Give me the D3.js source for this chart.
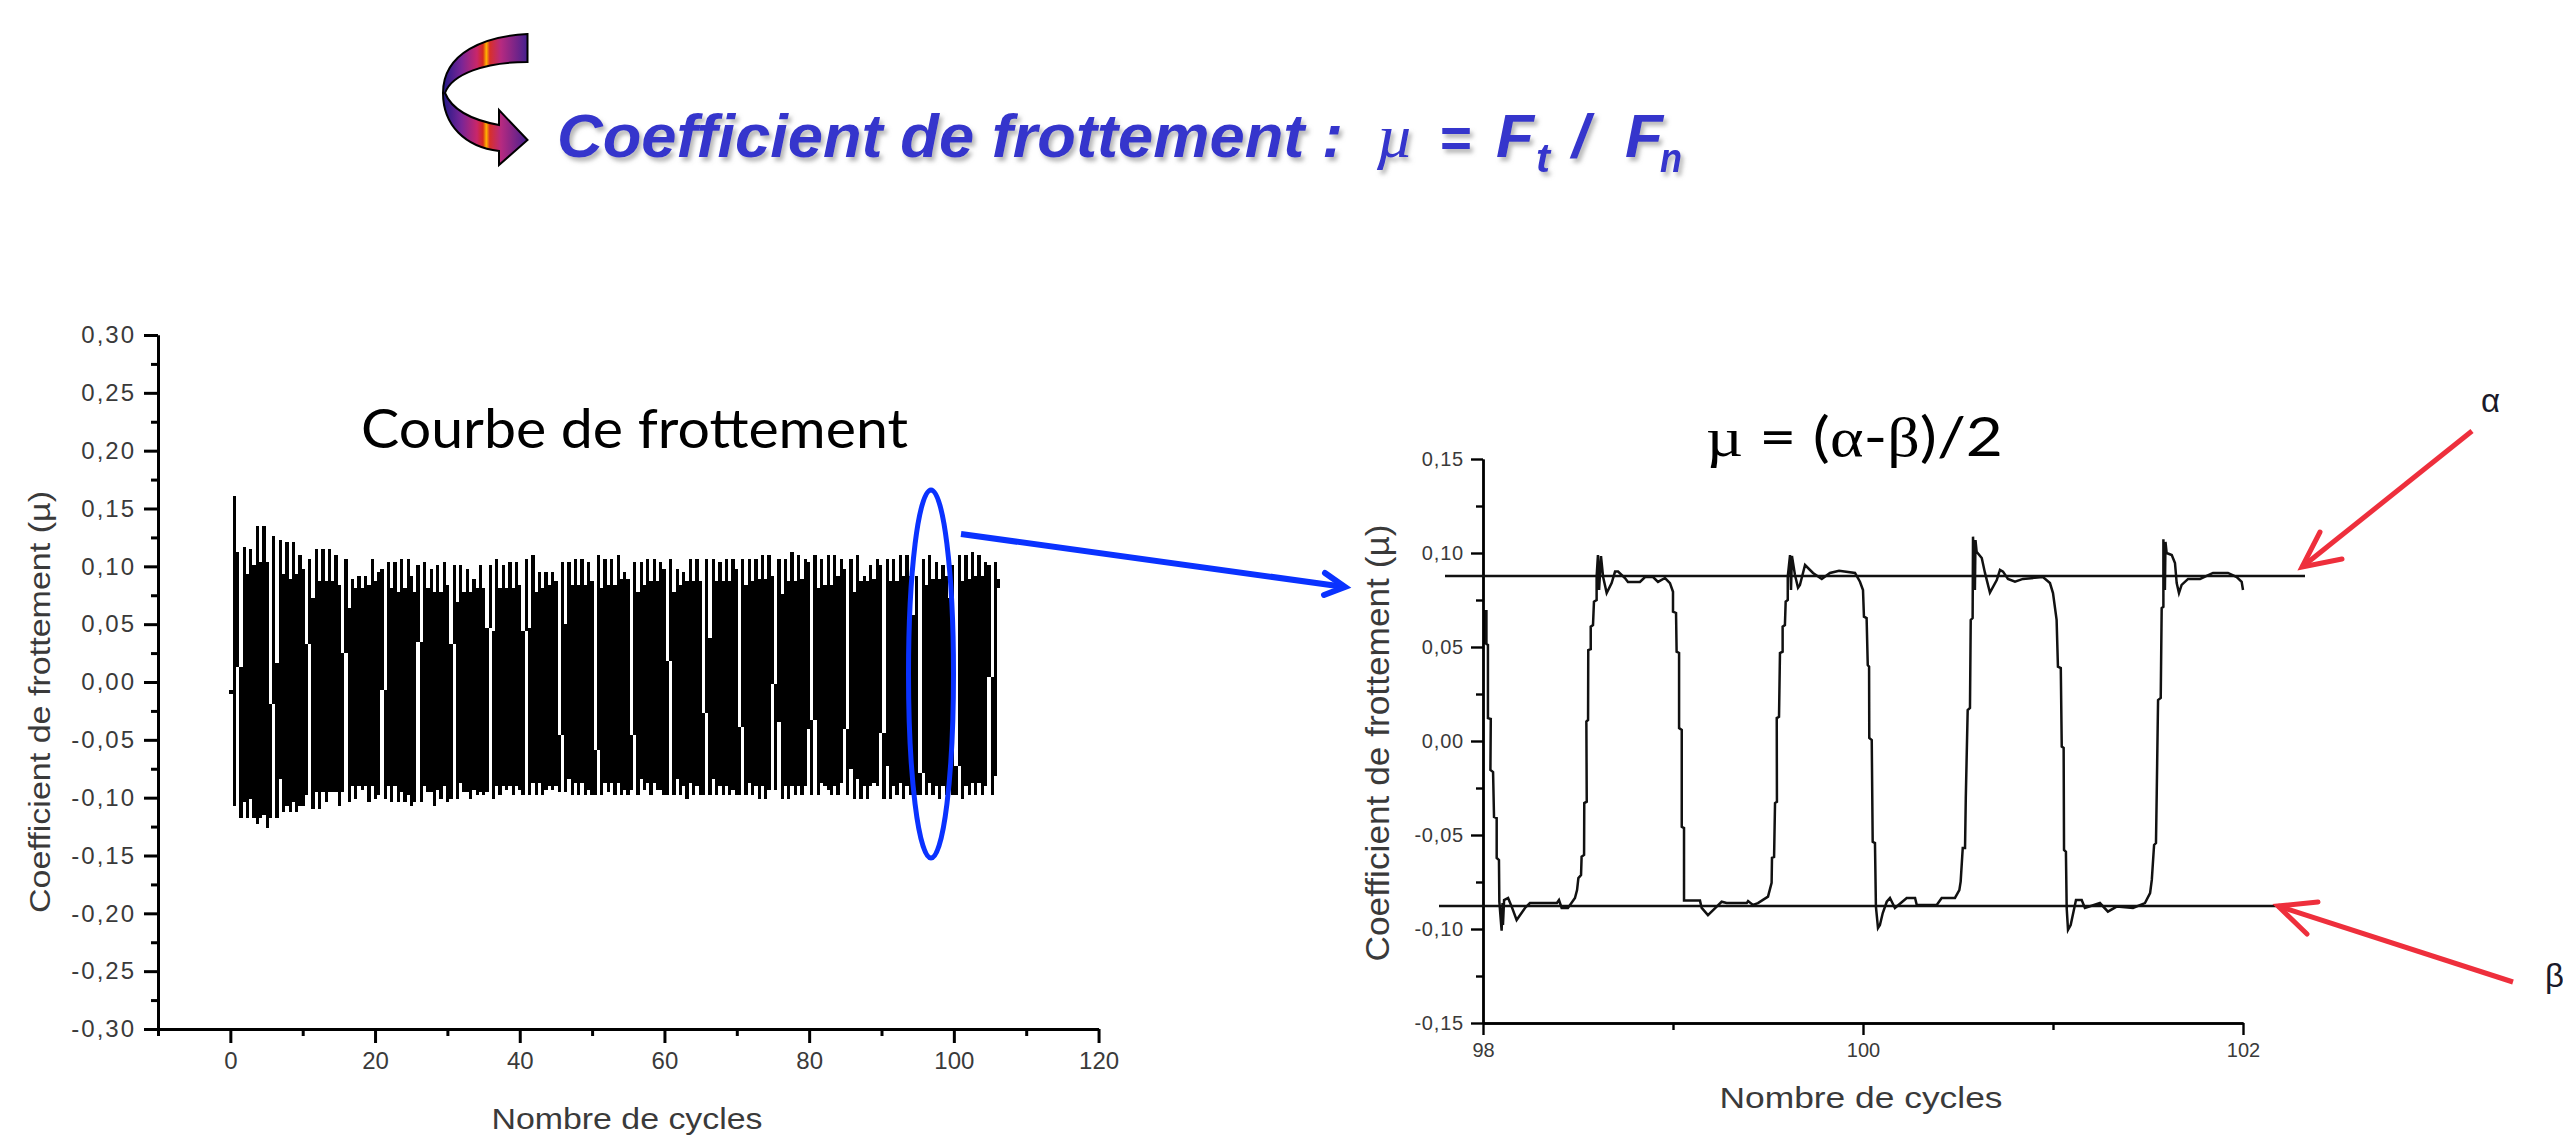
<!DOCTYPE html>
<html>
<head>
<meta charset="utf-8">
<script src="https://d3js.org/d3.v7.min.js"></script>
<style>
	html, body { margin: 0; padding: 0; background: #fff; overflow: hidden; }
	svg { display: block; }
	.axis text { font-family: "Liberation Sans", Arial, sans-serif; fill: #3a3a3a; }
	.axis path, .axis line { stroke: #000; }
	.axis-title { font-family: "Liberation Sans", Arial, sans-serif; fill: #3a3a3a; }
	.note { font-family: Lato, "Open Sans", sans-serif; fill: #000; }
	.head { font-family: "Liberation Sans", Arial, sans-serif; font-weight: bold; font-style: italic; fill: #3434cc; }
</style>
</head>
<body>
<script>
// courbe de frottement : bords haut et bas, lus colonne par colonne
var sampleStart = -0.12;
var sampleStep  = 0.4534;
var upperEdge = [-.007,
	.161,.112,.013,.117,.093,.115,.101,.135,.104,.135,.104,-.019,.126,.016,.123,.093,.121,.089,.121,.093,
	.110,.098,.033,.106,.073,.115,.087,.115,.087,.115,.087,.110,.084,.025,.106,.064,.089,.081,.092,.081,
	.092,.084,.106,.087,.095,.098,-.007,.104,.081,.104,.078,.106,.081,.106,.092,.078,.101,.035,.104,.081,
	.098,.078,.101,.078,.104,.084,.033,.101,.069,.101,.078,.098,.078,.089,.081,.101,.081,.047,.101,.044,
	.106,.081,.101,.081,.104,.081,.104,.084,.044,.106,.047,.110,.078,.095,.081,.095,.084,.095,.087,-.046,
	.104,.050,.104,.084,.106,.084,.106,.084,.104,.087,-.059,.110,.081,.106,.084,.106,.084,.110,.089,.095,
	.089,-.046,.104,.078,.104,.084,.106,.087,.106,.087,.104,.098,.018,.106,.078,.098,.084,.095,.087,.106,
	.087,.106,.087,-.027,.106,.038,.106,.087,.104,.087,.106,.087,.106,.098,-.039,.106,.084,.106,.087,.106,
	.089,.110,.089,.110,.092,-.002,.106,.076,.106,.087,.112,.087,.110,.089,.106,.104,-.033,.110,.081,.106,
	.084,.110,.084,.110,.092,.106,.098,-.041,.106,.078,.110,.087,.092,.087,.101,.089,.106,.101,-.044,.106,
	.087,.106,.087,.110,.092,.110,.092,.058,.092,-.079,.106,.084,.110,.089,.104,.089,.101,.092,.073,.101,
	-.073,.110,.087,.110,.089,.112,.092,.110,.092,.104,.101,.004,.104,.089,.089];
var lowerEdge = [-.010,
	-.107,.013,-.118,-.104,-.118,-.101,-.118,-.123,-.118,-.115,-.126,-.118,-.019,-.118,-.084,-.112,-.107,-.112,-.104,-.112,
	-.107,-.107,-.098,.033,-.110,-.095,-.110,-.095,-.104,-.095,-.095,-.095,-.107,-.095,.025,-.104,-.090,-.101,-.090,-.093,
	-.090,-.104,-.090,-.101,-.098,-.007,-.101,-.090,-.104,-.090,-.104,-.095,-.104,-.098,-.107,-.104,.035,-.104,-.090,-.095,
	-.095,-.107,-.093,-.101,-.090,-.104,-.101,.033,-.101,-.087,-.095,-.095,-.101,-.093,-.098,-.095,-.098,-.095,.047,-.101,
	-.090,-.098,-.090,-.093,-.090,-.098,-.090,-.093,-.098,.044,-.098,-.087,-.098,-.087,-.098,-.093,-.090,-.093,-.090,-.095,
	-.046,-.095,-.084,-.098,-.087,-.098,-.087,-.098,-.093,-.098,-.098,-.059,-.098,-.087,-.095,-.087,-.098,-.087,-.098,-.093,
	-.098,-.093,-.046,-.098,-.084,-.093,-.087,-.098,-.087,-.093,-.093,-.098,-.098,.018,-.098,-.084,-.098,-.090,-.101,-.087,
	-.098,-.090,-.098,-.098,-.027,-.098,-.084,-.098,-.090,-.098,-.090,-.098,-.093,-.098,-.098,-.039,-.098,-.087,-.098,-.090,
	-.101,-.090,-.101,-.093,-.002,-.093,-.035,-.101,-.090,-.101,-.090,-.098,-.090,-.098,-.090,-.041,-.098,-.033,-.098,-.087,
	-.090,-.093,-.098,-.090,-.098,-.087,-.041,-.098,-.075,-.101,-.084,-.101,-.090,-.101,-.090,-.087,-.090,-.044,-.101,-.073,
	-.101,-.090,-.098,-.087,-.101,-.090,-.098,-.090,-.098,-.098,-.079,-.098,-.087,-.098,-.090,-.101,-.090,-.098,-.090,-.098,
	-.098,-.073,-.101,-.090,-.098,-.087,-.098,-.087,-.098,-.090,.004,-.098,-.081,.081,.081];

// zoom 98-102 cycles
var detailCycle = [98.012,98.012,98.018,98.018,98.026,98.026,98.041,98.039,98.053,98.058,98.072,98.072,98.084,98.086,98.098,98.103,98.105,98.111,98.132,98.151,98.177,98.221,
	98.247,98.353,98.389,98.400,98.414,98.447,98.484,98.495,98.502,98.516,98.519,98.532,98.533,98.546,98.544,98.553,98.554,98.567,98.567,98.579,
	98.584,98.598,98.598,98.605,98.611,98.621,98.632,98.651,98.677,98.695,98.711,98.747,98.763,98.826,98.853,98.895,98.921,98.958,98.984,99.000,
	99.000,99.016,99.019,99.032,99.032,99.046,99.046,99.058,99.058,99.142,99.151,99.184,99.230,99.256,99.282,99.388,99.395,99.421,99.447,99.500,
	99.519,99.521,99.532,99.537,99.547,99.546,99.558,99.563,99.577,99.577,99.589,99.593,99.604,99.604,99.616,99.621,99.626,99.642,99.658,99.668,
	99.695,99.737,99.783,99.826,99.874,99.958,99.984,100.000,100.005,100.019,100.025,100.032,100.033,100.046,100.051,100.063,100.068,100.079,100.089,100.104,
	100.125,100.142,100.168,100.230,100.274,100.283,100.388,100.414,100.484,100.507,100.514,100.525,100.537,100.541,100.551,100.563,100.567,100.577,100.579,100.589,
	100.592,100.598,100.625,100.642,100.668,100.704,100.721,100.737,100.763,100.800,100.842,100.947,100.984,101.000,101.019,101.026,101.041,101.046,101.056,101.058,
	101.068,101.072,101.079,101.093,101.121,101.151,101.168,101.247,101.289,101.335,101.421,101.484,101.511,101.520,101.532,101.542,101.546,101.553,101.567,101.572,
	101.581,101.581,101.589,101.592,101.598,101.625,101.642,101.651,101.663,101.677,101.711,101.774,101.842,101.921,101.967,101.993,102.000];
var detailMu = [.0697,.0516,.0697,.0516,.0511,.0122,.0117,-.0154,-.0165,-.0404,-.0410,-.0622,-.0633,-.0855,-.1009,-.0862,-.0979,-.0846,-.0835,-.0881,-.0952,-.0888,
	-.0862,-.0862,-.0862,-.0846,-.0888,-.0888,-.0835,-.0793,-.0729,-.0713,-.0615,-.0606,-.0330,-.0323,.0103,.0112,.0484,.0489,.0608,.0617,
	.0741,.0750,.0874,.0989,.0803,.0984,.0874,.0787,.0840,.0901,.0901,.0867,.0846,.0846,.0872,.0872,.0846,.0867,.0840,.0794,
	.0688,.0681,.0475,.0468,.0069,.0059,-.0456,-.0463,-.0849,-.0849,-.0888,-.0926,-.0881,-.0855,-.0862,-.0862,-.0851,-.0872,-.0862,-.0828,
	-.0755,-.0622,-.0617,-.0330,-.0323,.0122,.0129,.0468,.0475,.0608,.0617,.0741,.0750,.0874,.0989,.0803,.0984,.0883,.0815,.0830,
	.0936,.0894,.0862,.0894,.0906,.0894,.0847,.0803,.0661,.0654,.0404,.0395,.0016,.0005,-.0536,-.0543,-.0881,-.0995,-.0979,-.0915,
	-.0855,-.0835,-.0888,-.0835,-.0835,-.0872,-.0872,-.0835,-.0835,-.0793,-.0748,-.0569,-.0569,-.0303,.0165,.0176,.0644,.0654,.1087,.0803,
	.1069,.1007,.0973,.0894,.0789,.0856,.0910,.0901,.0862,.0847,.0862,.0872,.0840,.0787,.0644,.0395,.0388,-.0030,-.0037,-.0580,
	-.0589,-.0888,-.1005,-.0979,-.0846,-.0846,-.0888,-.0862,-.0908,-.0881,-.0888,-.0862,-.0809,-.0739,-.0553,-.0543,-.0277,.0218,.0229,.0707,
	.0714,.1073,.0803,.1059,.1000,.0989,.0947,.0840,.0787,.0830,.0862,.0862,.0894,.0894,.0872,.0847,.0803];
var alphaLevel = 0.0878;
var betaLevel  = -0.0878;

// axes
var leftMajorY  = [.30,.25,.20,.15,.10,.05,0,-.05,-.10,-.15,-.20,-.25,-.30];
var leftMinorY  = [.275,.225,.175,.125,.075,.025,-.025,-.075,-.125,-.175,-.225,-.275];
var leftMajorX  = [0,20,40,60,80,100,120];
var leftMinorX  = [-10,10,30,50,70,90,110];
var rightMajorY = [.15,.10,.05,0,-.05,-.10,-.15];
var rightMinorY = [.125,.075,.025,-.025,-.075,-.125];
var rightMajorX = [98,100,102];
var rightMinorX = [99,101];

var svg = d3.select("body").append("svg").attr("width", 2563).attr("height", 1138);
var defs = svg.append("defs");

function comma(v){ return d3.format(".2f")(v).replace("−", "-").replace(".", ","); }

function drawAxes( xScale, yScale, opt ){
	var g = svg.append("g").attr("class", "axis");

	var yMinor = g.append("g").attr("transform", "translate(" + xScale.range()[0] + ",0)")
		.call(d3.axisLeft(yScale).tickValues(opt.minorY).tickSizeOuter(0).tickSizeInner(opt.minorLen).tickFormat(""));
	var yMajor = g.append("g").attr("transform", "translate(" + xScale.range()[0] + ",0)")
		.call(d3.axisLeft(yScale).tickValues(opt.majorY).tickSizeOuter(0).tickSizeInner(opt.majorLen).tickPadding(opt.padY).tickFormat(comma));
	var xMinor = g.append("g").attr("transform", "translate(0," + yScale.range()[0] + ")")
		.call(d3.axisBottom(xScale).tickValues(opt.minorX).tickSizeOuter(0).tickSizeInner(opt.minorLen).tickFormat(""));
	var xMajor = g.append("g").attr("transform", "translate(0," + yScale.range()[0] + ")")
		.call(d3.axisBottom(xScale).tickValues(opt.majorX).tickSizeOuter(0).tickSizeInner(opt.majorLen).tickPadding(opt.padX).tickFormat(d3.format("d")));

	g.selectAll("path, line").attr("stroke-width", opt.stroke);
	yMajor.selectAll("text").style("font-size", opt.fontY + "px").style("letter-spacing", opt.spacing + "px");
	xMajor.selectAll("text").style("font-size", opt.fontX + "px");
}

function axisTitle( text, x, y, size, length, rotate ){
	svg.append("text").attr("class", "axis-title")
		.attr("transform", "translate(" + x + "," + y + ")" + (rotate ? " rotate(-90)" : ""))
		.attr("text-anchor", "middle")
		.attr("textLength", length)
		.attr("lengthAdjust", "spacingAndGlyphs")
		.style("font-size", size + "px")
		.text(text);
}

// graphe de gauche
var xLeft = d3.scaleLinear().domain([-10, 120]).range([158, 158 + 130 * 7.235]);
var yLeft = d3.scaleLinear().domain([-.30, .30]).range([1029, 335]);

var samples = d3.range(upperEdge.length);
var band = d3.area()
	.curve(d3.curveStepAfter)
	.x(function(i){ return xLeft(sampleStart + i * sampleStep); })
	.y0(function(i){ return yLeft(lowerEdge[i]); })
	.y1(function(i){ return yLeft(upperEdge[i]); });

svg.append("path")
	.attr("d", band(samples))
	.attr("fill", "#000")
	.attr("shape-rendering", "crispEdges");

drawAxes(xLeft, yLeft, {
	minorY: leftMinorY, majorY: leftMajorY, minorX: leftMinorX, majorX: leftMajorX,
	minorLen: 7, majorLen: 14, padY: 8, padX: 9, stroke: 3, fontY: 24, fontX: 24, spacing: 2
});
axisTitle("Coefficient de frottement (µ)", 50, 702, 30, 422, true);
axisTitle("Nombre de cycles", 627, 1129, 30, 271, false);

// graphe de droite
var xRight = d3.scaleLinear().domain([98, 102]).range([1483, 2243]);
var yRight = d3.scaleLinear().domain([-.15, .15]).range([1023, 459]);

var curve = d3.line()
	.x(function(d, i){ return xRight(detailCycle[i]); })
	.y(function(d, i){ return yRight(detailMu[i]); });

svg.append("path")
	.attr("d", curve(detailCycle))
	.attr("fill", "none")
	.attr("stroke", "#111")
	.attr("stroke-width", 2.5);

drawAxes(xRight, yRight, {
	minorY: rightMinorY, majorY: rightMajorY, minorX: rightMinorX, majorX: rightMajorX,
	minorLen: 7, majorLen: 12, padY: 7, padX: 8, stroke: 2.4, fontY: 20, fontX: 20, spacing: .8
});
axisTitle("Coefficient de frottement (µ)", 1389, 743, 33, 437, true);
axisTitle("Nombre de cycles", 1861, 1108, 30, 283, false);

svg.append("line").attr("stroke", "#111").attr("stroke-width", 2.4)
	.attr("x1", 1445).attr("x2", 2305)
	.attr("y1", yRight(alphaLevel)).attr("y2", yRight(alphaLevel));
svg.append("line").attr("stroke", "#111").attr("stroke-width", 2.4)
	.attr("x1", 1439).attr("x2", 2280)
	.attr("y1", yRight(betaLevel)).attr("y2", yRight(betaLevel));

// annotations
svg.append("text").attr("class", "note")
	.attr("x", 361).attr("y", 448)
	.attr("textLength", 547).attr("lengthAdjust", "spacingAndGlyphs")
	.style("font-size", "54px")
	.text("Courbe de frottement");

var formula = svg.append("text").attr("class", "note")
	.attr("x", 1706).attr("y", 456)
	.attr("textLength", 297).attr("lengthAdjust", "spacingAndGlyphs")
	.style("font-size", "54px");
formula.append("tspan").style("font-family", "Liberation Serif").text("µ");
formula.append("tspan").text(" = (");
formula.append("tspan").style("font-family", "Liberation Serif").text("α");
formula.append("tspan").text("-");
formula.append("tspan").style("font-family", "Liberation Serif").text("β");
formula.append("tspan").text(")/2");

svg.append("ellipse")
	.attr("cx", 931).attr("cy", 674).attr("rx", 22.5).attr("ry", 184)
	.attr("fill", "none").attr("stroke", "#0a32ff").attr("stroke-width", 5);

function arrow( from, tip, barbA, barbB, color, width ){
	var g = svg.append("g").attr("fill", "none").attr("stroke", color).attr("stroke-width", width);
	g.append("line")
		.attr("x1", from[0]).attr("y1", from[1])
		.attr("x2", tip[0]).attr("y2", tip[1]);
	g.append("path")
		.attr("stroke-linecap", "round").attr("stroke-linejoin", "miter")
		.attr("d", d3.line()([barbA, tip, barbB]));
}
arrow([961, 534], [1345, 587], [1325, 573], [1324, 595], "#0a32ff", 6);
arrow([2472, 431], [2302, 567], [2320, 532], [2342, 559], "#ee2f3c", 5);
arrow([2513, 982], [2278, 906], [2318, 902], [2307, 934], "#ee2f3c", 5);

svg.append("text").attr("x", 2481).attr("y", 412).style("font-family", "Liberation Sans").style("font-size", "33px").attr("fill", "#1a1a2a").text("α");
svg.append("text").attr("x", 2545).attr("y", 987).style("font-family", "Liberation Sans").style("font-size", "33px").attr("fill", "#1a1a2a").text("β");

// titre
var shadow = defs.append("filter").attr("id", "head-shadow")
	.attr("x", "-5%").attr("y", "-20%").attr("width", "110%").attr("height", "150%");
shadow.append("feDropShadow")
	.attr("dx", 3).attr("dy", 4).attr("stdDeviation", 2)
	.attr("flood-color", "#888").attr("flood-opacity", .6);

var head = svg.append("g").attr("filter", "url(#head-shadow)");
function headText( text, x, y, size, length ){
	var t = head.append("text").attr("class", "head")
		.attr("x", x).attr("y", y)
		.style("font-size", size + "px")
		.text(text);
	if (length) t.attr("textLength", length).attr("lengthAdjust", "spacingAndGlyphs");
	return t;
}
headText("Coefficient de frottement :", 557, 157, 62, 786);
headText("µ", 1376, 157, 62, 38)
	.style("font-family", "Liberation Serif").style("font-weight", "normal");
headText("=", 1439, 157, 56, 32);
headText("F", 1496, 157, 62, 38);
headText("t", 1536, 172, 40, 14);
headText("/", 1572, 157, 62);
headText("F", 1625, 157, 62, 38);
headText("n", 1660, 172, 40, 22);

// fleche courbe
var swoosh = defs.append("linearGradient").attr("id", "swoosh")
	.attr("gradientUnits", "userSpaceOnUse")
	.attr("x1", 443).attr("x2", 528).attr("y1", 0).attr("y2", 0);
var swooshStops = [[0, "#221a88"], [.22, "#7a2596"], [.4, "#c9266a"], [.47, "#d62a1f"], [.51, "#ffb400"], [.55, "#d8302a"], [.68, "#b72a80"], [1, "#43208f"]];
swoosh.selectAll("stop").data(swooshStops).enter().append("stop")
	.attr("offset", function(d){ return d[0]; })
	.attr("stop-color", function(d){ return d[1]; });

svg.append("path")
	.attr("fill", "url(#swoosh)")
	.attr("stroke", "#000")
	.attr("stroke-width", 2)
	.attr("stroke-linejoin", "miter")
	.attr("d", "M527.5 34 C486 36 443 52 443 93 C443 125 465 147 499 151 L499 165 L527.5 140 L499 110 L499 125 C472 120 452 110 445 93 C452 74 485 62 527.5 62 Z");
</script>
</body>
</html>
